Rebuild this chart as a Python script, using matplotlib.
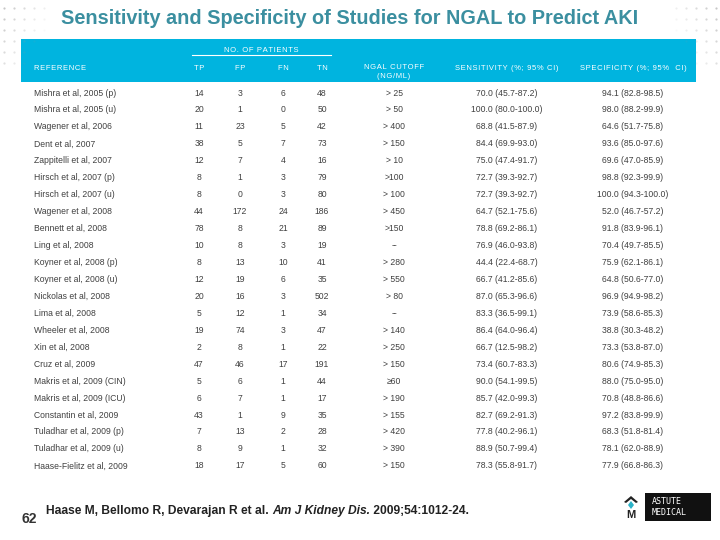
import numpy as np
import matplotlib
matplotlib.use("Agg")
import matplotlib.pyplot as plt
from matplotlib.patches import Rectangle, Polygon

plt.rcParams['font.family'] = ['Liberation Sans', 'DejaVu Sans']

title = "Sensitivity and Specificity of Studies for NGAL to Predict AKI"

refs = ["Mishra et al, 2005 (p)", "Mishra et al, 2005 (u)", "Wagener et al, 2006",
        "Dent et al, 2007", "Zappitelli et al, 2007", "Hirsch et al, 2007 (p)",
        "Hirsch et al, 2007 (u)", "Wagener et al, 2008", "Bennett et al, 2008",
        "Ling et al, 2008", "Koyner et al, 2008 (p)", "Koyner et al, 2008 (u)",
        "Nickolas et al, 2008", "Lima et al, 2008", "Wheeler et al, 2008",
        "Xin et al, 2008", "Cruz et al, 2009", "Makris et al, 2009 (CIN)",
        "Makris et al, 2009 (ICU)", "Constantin et al, 2009", "Tuladhar et al, 2009 (p)",
        "Tuladhar et al, 2009 (u)", "Haase-Fielitz et al, 2009"]
tp = [14, 20, 11, 38, 12, 8, 8, 44, 78, 10, 8, 12, 20, 5, 19, 2, 47, 5, 6, 43, 7, 8, 18]
fp = [3, 1, 23, 5, 7, 1, 0, 172, 8, 8, 13, 19, 16, 12, 74, 8, 46, 6, 7, 1, 13, 9, 17]
fn = [6, 0, 5, 7, 4, 3, 3, 24, 21, 3, 10, 6, 3, 1, 3, 1, 17, 1, 1, 9, 2, 1, 5]
tn = [48, 50, 42, 73, 16, 79, 80, 186, 89, 19, 41, 35, 502, 34, 47, 22, 191, 44, 17, 35, 28, 32, 60]
cutoff = ["> 25", "> 50", "> 400", "> 150", "> 10", ">100", "> 100", "> 450", ">150",
          "--", "> 280", "> 550", "> 80", "--", "> 140", "> 250", "> 150", "\u226560",
          "> 190", "> 155", "> 420", "> 390", "> 150"]
sens = ["70.0 (45.7-87.2)", "100.0 (80.0-100.0)", "68.8 (41.5-87.9)", "84.4 (69.9-93.0)",
        "75.0 (47.4-91.7)", "72.7 (39.3-92.7)", "72.7 (39.3-92.7)", "64.7 (52.1-75.6)",
        "78.8 (69.2-86.1)", "76.9 (46.0-93.8)", "44.4 (22.4-68.7)", "66.7 (41.2-85.6)",
        "87.0 (65.3-96.6)", "83.3 (36.5-99.1)", "86.4 (64.0-96.4)", "66.7 (12.5-98.2)",
        "73.4 (60.7-83.3)", "90.0 (54.1-99.5)", "85.7 (42.0-99.3)", "82.7 (69.2-91.3)",
        "77.8 (40.2-96.1)", "88.9 (50.7-99.4)", "78.3 (55.8-91.7)"]
spec = ["94.1 (82.8-98.5)", "98.0 (88.2-99.9)", "64.6 (51.7-75.8)", "93.6 (85.0-97.6)",
        "69.6 (47.0-85.9)", "98.8 (92.3-99.9)", "100.0 (94.3-100.0)", "52.0 (46.7-57.2)",
        "91.8 (83.9-96.1)", "70.4 (49.7-85.5)", "75.9 (62.1-86.1)", "64.8 (50.6-77.0)",
        "96.9 (94.9-98.2)", "73.9 (58.6-85.3)", "38.8 (30.3-48.2)", "73.3 (53.8-87.0)",
        "80.6 (74.9-85.3)", "88.0 (75.0-95.0)", "70.8 (48.8-86.6)", "97.2 (83.8-99.9)",
        "68.3 (51.8-81.4)", "78.1 (62.0-88.9)", "77.9 (66.8-86.3)"]

headers = ["REFERENCE", "TP", "FP", "FN", "TN", "NGAL CUTOFF\n(NG/ML)",
           "SENSITIVITY (%; 95% CI)", "SPECIFICITY (%; 95%  CI)"]
citation = ["Haase M, Bellomo R, Devarajan R et al. ", "Am J Kidney Dis.", " 2009;54:1012-24."]
page_no = "62"

teal = '#3b8fa0'
cyan = '#00b4df'
grey = '#404040'


def spaced(s):
    return "\u200a".join(s)


fig = plt.figure(figsize=(7.2, 5.4), dpi=100)
ax = fig.add_axes([0, 0, 1, 1])
ax.set_xlim(0, 720)
ax.set_ylim(540, 0)
ax.axis('off')
fig.canvas.draw()
renderer = fig.canvas.get_renderer()


def fit_width(t, width):
    # shrink a text until it is about `width` pixels wide
    bb = t.get_window_extent(renderer=renderer)
    t.set_fontsize(t.get_fontsize() * width / bb.width)


# decorative dots in the top corners
for x0, sgn in [(4, 1), (716, -1)]:
    for i in range(5):
        for j in range(6):
            a = 0.55 - 0.1 * i - 0.05 * j
            if a > 0.05:
                ax.plot(x0 + sgn * i * 10, 8 + j * 11, 'o', ms=1.6, color='#9a9a9a', alpha=a, mec='none')

t = ax.text(350, 18, title, ha='center', va='center', fontsize=15, fontweight='bold',
            color=teal, fontstretch='condensed')
fit_width(t, 580)

# header bar
ax.add_patch(Rectangle((21, 39), 675, 43, color=cyan, lw=0))
ax.text(261, 50, spaced("NO. OF PATIENTS"), ha='center', va='center', fontsize=5.5, color='white')
ax.plot([192, 331], [54.5, 54.5], color='white', lw=0.8)

col_x = [34, 199, 240, 283, 322, 394, 507, 633]
for k, (h, x) in enumerate(zip(headers, col_x)):
    lines = [spaced(l) for l in h.split("\n")]
    ha = 'left' if k == 0 else 'center'
    ax.text(x, 68 if len(lines) == 1 else 72, "\n".join(lines), ha=ha, va='center',
            fontsize=5.5, color='white', linespacing=1.3)

row_y0 = 93
row_dy = 16.95
for i in range(len(refs)):
    y = row_y0 + i * row_dy
    vals = [refs[i], tp[i], fp[i], fn[i], tn[i], cutoff[i], sens[i], spec[i]]
    for k, (v, x) in enumerate(zip(vals, col_x)):
        ha = 'left' if k == 0 else 'center'
        ax.text(x, y, str(v), ha=ha, va='center', fontsize=6.2, color=grey)

# footer
ax.text(22, 519, page_no, ha='left', va='center', fontsize=10, fontweight='bold',
        color='#333333', fontstretch='condensed')
parts = []
for k, part in enumerate(citation):
    parts.append(ax.text(46, 511, part, ha='left', va='center', fontsize=10, fontweight='bold',
                         style='italic' if k == 1 else 'normal', color='#222222',
                         fontstretch='condensed'))
total = sum(p.get_window_extent(renderer=renderer).width for p in parts)
x = 46
for p in parts:
    p.set_fontsize(10 * 420 / total)
    p.set_x(x)
    bb = p.get_window_extent(renderer=renderer)
    x = ax.transData.inverted().transform((bb.x1, bb.y0))[0]

# logo
ax.add_patch(Rectangle((645, 493), 66, 28, color='#111111', lw=0))
ax.text(652, 507, "ASTUTE\nMEDICAL", ha='left', va='center', fontsize=6, color='white',
        family=['DejaVu Sans Mono'], linespacing=1.2)
ax.add_patch(Polygon([[624, 502], [631, 496], [638, 502], [636, 503], [631, 499], [626, 503]],
                     closed=True, color='#222222', lw=0))
ax.add_patch(Polygon([[631, 501], [634, 505], [631, 509], [628, 505]], closed=True,
                     color='#2bb3c8', lw=0))
ax.text(631, 515, "M", ha='center', va='center', fontsize=8, fontweight='bold', color='#222222')

fig.savefig("out.png", dpi=100)
